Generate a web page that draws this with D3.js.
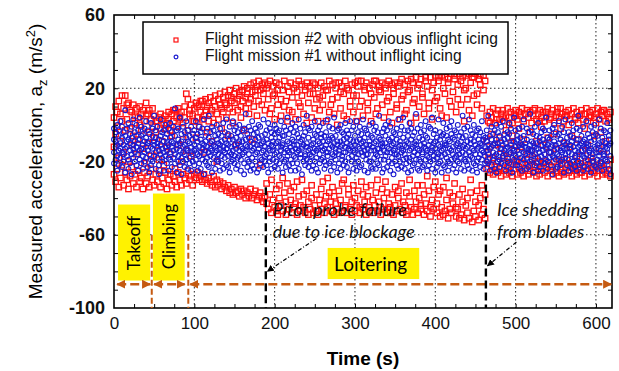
<!DOCTYPE html>
<html>
<head>
<meta charset="utf-8">
<script src="https://cdn.jsdelivr.net/npm/d3@7"></script>
<style>
  body { margin: 0; background: #fff; }
  svg { display: block; font-family: "Liberation Sans", Arial, sans-serif; }
</style>
</head>
<body>
<svg id="chart" width="619" height="371"></svg>
<script>
// ---- data: each row is [time (s), a_z samples (m/s^2) ...] ----
// mission #1, no icing
const cleanTakeoffClimb = [
[0,-8,-15,-2,-21],[2,-12,-4,-19,-9],[4,-17,0,-11,-25],[6,-6,-14,-22,-3],[8,-10,-18,2,-13],[10,-23,-7,-15,-1],[12,-4,-11,-20,-16],[14,8,-13,-26,-6],[16,-9,-2,-17,-12],[18,-19,-8,-24,1],
[20,-14,-5,-10,-21],[22,-1,-16,-27,-7],[24,-11,3,-18,-13],[26,-20,-9,-4,-15],[28,-6,-22,-12,0],[30,-16,-3,-25,-10],[32,-8,-19,-14,4],[34,-13,-1,-21,-6],[36,-24,-11,-5,-17],[38,-2,-15,-9,-20],
[40,-18,-7,-12,2],[42,-10,-23,-3,-14],[44,-5,-16,-26,-9],[46,-12,1,-19,-22],[48,-20,-6,-13,-2],[50,-9,-17,5,-11],[52,-15,-24,-7,-3],[54,-1,-12,-18,-10],[56,-22,-8,-14,-27],[58,-6,3,-16,-11],
[60,-13,-20,-4,-18],[62,-3,-9,-25,-15],[64,-17,-12,0,-7],[66,-10,-21,-14,-5],[68,-25,-2,-11,-18],[70,-7,-15,-19,1],[72,-12,-4,-23,-9],[74,-18,-10,-1,-14],[76,9,-6,-16,-21],[78,-11,-26,-3,-13],
[80,-2,-17,-8,-20],[82,-14,-22,4,-10],[84,-9,-5,-18,-27],[86,-20,-12,-1,-15],[88,-4,-16,-11,-23],[90,-13,2,-19,-7],[92,-24,-9,-14,-3],[94,-6,-18,-10,-21],[96,-15,-1,-25,-12],[98,-8,-20,-5,-16]
];
const cleanLoiterA = [
[100,-11,-3,-22,-14],[102,-19,-7,-13,2],[104,-5,-16,-25,-9],[106,-12,-21,-1,-17],[108,-24,-8,-15,-4],[110,-2,-13,-19,-10],[112,-16,3,-27,-11],[114,-9,-20,-6,-14],[116,-22,-12,-2,-18],[118,-7,-15,-23,5],
[120,-13,-4,-17,-10],[122,-26,-9,-14,-1],[124,-3,-18,-11,-21],[126,-15,-6,-24,-12],[128,0,-14,-8,-19],[130,-20,-10,-16,-5],[132,-11,-25,-2,-13],[134,-6,-17,-21,-9],[136,-14,1,-12,-24],[138,-18,-8,-4,-15],
[140,-10,-22,-13,3],[142,-23,-5,-17,-11],[144,-1,-15,-26,-8],[146,-16,-12,-6,-20],[148,-8,-19,2,-14],[150,-21,-3,-11,-17],[152,-13,-24,-7,-1],[154,-4,-10,-18,-22],[156,-17,-14,0,-9],[158,-25,-6,-12,-19],
[160,-9,-16,-3,-13],[162,-2,-21,-15,-27],[164,-14,-8,6,-11],[166,-19,-12,-23,-5],[168,-7,-1,-16,-20],[170,-12,-25,-9,-3],[172,-22,-14,-18,2],[174,-5,-10,-13,-24],[176,-16,-20,-2,-8],[178,-11,-4,-26,-15],
[180,-24,-13,-7,0],[182,-1,-18,-11,-21],[184,-15,-6,-19,-10],[186,-9,-23,3,-14],[188,-20,-12,-5,-17],[190,-3,-16,-22,-8],[192,-13,-26,-10,1],[194,-18,-2,-14,-20],[196,-7,-11,-24,-4],[198,-14,-19,-9,-12],
[200,-23,-5,0,-16],[202,-10,-15,-20,-2],[204,-4,-24,-12,-9],[206,-17,-7,-3,-21],[208,-12,2,-18,-14],[210,-26,-11,-6,-10],[212,-6,-20,-15,-1],[214,-19,-3,-23,-13],[216,-9,-14,4,-17],[218,-15,-22,-10,-5],
[220,-2,-12,-19,-25],[222,-21,-8,-14,1],[224,-11,-17,-4,-9],[226,-25,-1,-13,-18],[228,-5,-15,-21,-11],[230,-14,-24,-7,3],[232,-18,-9,-2,-16],[234,-8,-13,-27,-12],[236,0,-20,-11,-6],[238,-16,-4,-17,-22],
[240,-12,-19,5,-10],[242,-23,-7,-14,-2],[244,-3,-16,-20,-13],[246,-17,-11,-1,-25],[248,-10,-22,-8,-15],[250,-20,2,-13,-5],[252,-6,-14,-24,-18],[254,-13,-26,-3,-9],[256,-1,-10,-16,-21],[258,-19,-5,-12,-7],
[260,-9,-18,1,-14],[262,-24,-13,-6,-20],[264,-4,-15,-22,-11],[266,-15,3,-9,-17],[268,-21,-8,-13,-1],[270,-11,-20,-25,-6],[272,-7,-2,-16,-12],[274,-17,-23,-10,4],[276,-13,-6,-19,-15],[278,-26,-11,-3,-9],
[280,-2,-16,-14,-21],[282,-12,-9,-24,0],[284,-19,-4,-11,-17],[286,-8,-22,-15,-5],[288,-15,1,-20,-12],[290,-23,-10,-7,-3],[292,-5,-18,-13,-26],[294,-11,-14,2,-8],[296,-20,-3,-17,-12],[298,-14,-24,-9,-1]
];
const cleanLoiterB = [
[300,-6,-15,-21,-11],[302,-18,2,-9,-25],[304,-12,-4,-16,-20],[306,-1,-23,-13,-8],[308,-22,-10,-5,-15],[310,-9,-17,3,-12],[312,-25,-7,-14,-2],[314,-3,-19,-11,-16],[316,-16,-13,-26,-5],[318,-11,0,-20,-9],
[320,-20,-14,-6,-23],[322,-7,-24,-12,1],[324,-14,-3,-18,-10],[326,-24,-9,-1,-16],[328,-4,-17,-13,-21],[330,-13,5,-22,-7],[332,-19,-11,-8,-15],[334,-10,-26,-4,-12],[336,-2,-14,-19,-24],[338,-17,-6,-10,0],
[340,-23,-12,-15,-3],[342,-8,-20,2,-13],[344,-15,-1,-25,-9],[346,-11,-18,-7,-21],[348,-27,-4,-14,-10],[350,-5,-13,-20,-16],[352,-16,-22,-2,-8],[354,-12,3,-17,-24],[356,-20,-9,-11,-5],[358,-1,-15,-23,-13],
[360,-14,-7,-19,4],[362,-24,-16,-3,-11],[364,-9,-21,-12,-18],[366,-3,-10,-26,-6],[368,-18,1,-14,-20],[370,-13,-25,-8,-2],[372,-6,-12,-17,-22],[374,-21,-4,-10,-15],[376,-11,-19,6,-9],[378,-16,-2,-24,-13],
[380,-25,-14,-7,-19],[382,-4,-20,-11,0],[384,-15,-8,-16,-23],[386,-10,-22,-3,-12],[388,-19,2,-13,-6],[390,-7,-17,-25,-14],[392,-22,-11,-1,-18],[394,-2,-15,-9,-20],[396,-14,-24,-12,4],[398,-17,-5,-19,-10],
[400,-9,-13,-26,-3],[402,-23,-18,-7,-15],[404,3,-11,-16,-21],[406,-12,-20,-4,-8],[408,-26,-6,-14,-17],[410,-5,-13,1,-22],[412,-16,-23,-10,-11],[414,-11,-2,-18,-6],[416,-20,-15,-8,-25],[418,-1,-9,-21,-13],
[420,-14,-19,-5,2],[422,-24,-12,-16,-7],[424,-8,-3,-22,-18],[426,-17,-26,-11,-4],[428,-10,0,-14,-20],[430,-21,-13,-6,-16],[432,-4,-18,-24,-9],[434,-15,-7,-12,5],[436,-25,-11,-2,-19],[438,-6,-16,-20,-13],
[440,-12,-22,-9,-1],[442,-19,3,-15,-24],[444,-3,-10,-17,-8],[446,-18,-25,-13,-5],[448,-9,-14,0,-21],[450,-22,-6,-11,-16],[452,-13,-20,-26,-3],[454,-2,-12,-8,-18],[456,-16,-23,-4,-10],[458,-11,2,-19,-14],
[460,-24,-8,-15,-6],[462,-7,-17,-21,-12]
];
const cleanLoiterC = [
[464,-14,-3,-20,-9],[466,-21,-11,5,-16],[468,-6,-18,-13,-25],[470,-12,-1,-22,-8],[472,-19,-15,-5,-11],[474,-3,-24,-10,-17],[476,-16,-8,-26,0],[478,-10,-20,-12,-4],
[480,-23,-6,-15,-19],[482,-1,-13,-9,-21],[484,-17,2,-18,-11],[486,-8,-22,-14,-5],[488,-13,-10,-25,-16],[490,-20,-4,-7,-12],[492,-5,-16,-21,1],[494,-15,-11,-2,-24],[496,-26,-9,-13,-18],[498,-9,-19,4,-14],
[500,-12,-3,-17,-22],[502,-22,-14,-8,-6],[504,-2,-20,-11,-16],[506,-18,-7,-24,-10],[508,-11,-25,-1,-13],[510,-6,-15,-19,3],[512,-16,-10,-12,-21],[514,-24,-2,-18,-8],[516,-4,-13,-23,-15],[518,-14,-20,6,-11],
[520,-19,-9,-14,-3],[522,-10,-26,-5,-17],[524,-1,-12,-16,-22],[526,-21,-6,-10,-13],[528,-13,-18,1,-25],[530,-7,-23,-15,-9],[532,-17,-4,-11,-20],[534,-25,-14,-8,-2],[536,-3,-10,-21,-16],[538,-12,-19,-13,4],
[540,-20,-7,-24,-11],[542,-8,-15,-3,-18],[544,-15,-22,-12,-6],[546,-2,-11,-17,-27],[548,-18,0,-9,-14],[550,-11,-24,-19,-4],[552,-23,-13,-6,-16],[554,-5,-17,2,-10],[556,-14,-8,-22,-20],[558,-19,-12,-15,-1],
[560,-9,-26,-4,-13],[562,-16,3,-18,-11],[564,-22,-10,-13,-7],[566,-4,-19,-25,-15],[568,-13,-6,-11,-21],[570,-24,-16,1,-9],[572,-7,-12,-20,-3],[574,-17,-23,-14,-18],[576,-10,-2,-8,-25],[578,-20,-15,-12,5],
[580,-3,-11,-22,-16],[582,-14,-21,-6,-10],[584,-25,-9,-17,-1],[586,-8,-18,-13,-23],[588,-16,2,-10,-12],[590,-11,-24,-19,-5],[592,-21,-7,-14,-15],[594,-1,-13,-26,-9],[596,-18,-16,-4,-20],[598,-12,-22,0,-8],
[600,-23,-5,-15,-13],[602,-6,-19,-11,-24],[604,-15,-10,3,-17],[606,-20,-14,-21,-2],[608,-9,-25,-7,-12],[610,-17,-3,-16,-22],[612,-4,-12,-19,-10],[614,-13,-20,1,-15],[616,-24,-8,-11,-6],[618,-10,-17,-27,-3]
];

// mission #2, obvious icing
const icingTakeoffClimb = [
[0,4,-27,-12],[2,10,-31,-5],[4,-1,-24,7],[6,13,-34,-18],[8,6,-29,-9],[10,16,-22,2],[12,9,-33,-15],[14,16,-26,-3],[16,3,-30,11],[18,12,-35,-20],
[20,-2,-28,8],[22,7,-23,-11],[24,11,-32,-6],[26,1,-27,5],[28,9,-34,-16],[30,4,-25,-8],[32,10,-31,0],[34,-3,-29,6],[36,8,-35,-13],[38,2,-26,-21],
[40,12,-32,5],[42,6,-28,-10],[44,8,-34,-4],[46,3,-24,-17],[48,-1,-30,9],[50,5,-33,-7],[52,-4,-27,2],[54,2,-31,-14],[56,4,-25,-19],[58,-2,-34,6],
[60,3,-29,-9],[62,0,-32,-22],[64,5,-26,-2],[66,1,-35,-12],[68,7,-30,3],[70,-3,-27,-16],[72,6,-33,-6],[74,2,-28,8],[76,8,-31,-24],[78,4,-34,-1],
[80,9,-26,-11],[82,3,-30,5],[84,7,-33,-20],[86,1,-27,-8],[88,10,-29,4],[90,17,-32,-14],[92,14,-25,-3],[94,8,-30,6],[96,11,-28,-17],[98,5,-33,2]
];
const icingLoiterA = [
[100,9,-27,2],[102,12,-29,-7],[104,4,-26,10],[106,11,-30,-1],[108,7,-28,13],[110,13,-31,3],[112,5,-27,-15],[114,14,-30,8],[116,10,-32,-4],[118,2,-29,12],
[120,15,-31,6],[122,8,-33,-9],[124,13,-28,1],[126,16,-34,10],[128,6,-30,-20],[130,14,-33,3],[132,17,-31,11],[134,9,-35,-2],[136,15,-32,7],[138,18,-34,12],
[140,11,-36,4],[142,16,-33,-6],[144,19,-37,9],[146,13,-35,15],[148,7,-38,1],[150,17,-34,12],[152,20,-37,-11],[154,14,-36,8],[156,18,-39,16],[158,10,-35,4],
[160,19,-38,13],[162,21,-36,-3],[164,15,-40,9],[166,20,-37,17],[168,12,-39,6],[170,22,-35,14],[172,18,-40,-8],[174,23,-38,10],[176,16,-36,19],[178,21,-41,5],
[180,24,-39,13],[182,19,-37,-22],[184,22,-40,11],[186,17,-42,20],[188,23,-39,8],
[190,20,-43,-32],[192,14,-46,22],[194,24,-38,6],[196,9,-48,-30],[198,21,-41,16],[200,17,-45,3],[202,23,-35,-47],[204,11,-49,19],[206,22,-40,-33],[208,5,-44,14],
[210,19,-47,-29],[212,24,-37,10],[214,13,-49,-42],[216,21,-32,2],[218,8,-46,18],[220,23,-41,-36],[222,15,-48,7],[224,20,-34,-45],[226,3,-43,22],[228,18,-49,-31],
[230,24,-39,12],[232,10,-47,-44],[234,22,-30,16],[236,6,-45,-38],[238,19,-48,21],[240,23,-36,1],[242,12,-42,-49],[244,21,-46,17],[246,4,-33,-40],[248,17,-48,23],
[250,22,-44,9],[252,14,-38,-47],[254,20,-49,2],[256,8,-41,15],[258,23,-46,-35],[260,16,-31,11],[262,21,-48,-43],[264,2,-39,19],[266,19,-45,-29],[268,24,-37,7],
[270,11,-47,-42],[272,22,-34,14],[274,6,-49,-39],[276,20,-43,23],[278,15,-46,0],[280,23,-36,-48],[282,9,-41,18],[284,21,-47,-32],[286,17,-30,5],[288,24,-45,-44],
[290,3,-48,20],[292,19,-38,-35],[294,13,-46,10],[296,22,-42,-49],[298,7,-33,16]
];
const icingLoiterB = [
[300,23,-47,-40],[302,16,-44,2],[304,21,-36,24],[306,10,-48,-45],[308,24,-31,13],[310,5,-46,-38],[312,19,-42,21],[314,23,-49,-34],[316,12,-39,8],[318,20,-45,-47],
[320,2,-33,17],[322,22,-48,-41],[324,15,-44,24],[326,24,-37,6],[328,9,-47,-30],[330,21,-42,19],[332,18,-49,-45],[334,23,-35,11],[336,4,-46,-40],[338,20,-31,22],
[340,13,-48,-37],[342,24,-43,15],[344,7,-45,-48],[346,22,-38,1],[348,17,-49,20],[350,23,-34,-44],[352,11,-47,9],[354,21,-40,-36],[356,3,-46,23],[358,25,-32,14],
[360,16,-48,-42],[362,22,-44,6],[364,8,-37,-49],[366,24,-47,18],[368,19,-30,-39],[370,1,-45,25],[372,23,-49,12],[374,14,-36,-46],[376,26,-42,4],[378,20,-48,-33],
[380,10,-40,22],[382,25,-46,-44],[384,17,-33,15],[386,6,-49,-38],[388,24,-43,26],[390,21,-47,-28],[392,12,-36,9],[394,26,-50,-45],[396,3,-41,19],[398,23,-46,-34],
[400,27,-31,13],[402,15,-48,-43],[404,24,-38,26],[406,9,-50,-36],[408,27,-45,5],[410,20,-34,-49],[412,26,-47,17],[414,4,-41,-29],[416,23,-51,25],[418,13,-37,-46],
[420,28,-48,10],[422,18,-43,-39],[424,25,-32,27],[426,7,-50,-45],[428,22,-46,14],[430,28,-38,-51],[432,11,-49,24],[434,26,-35,-42],[436,19,-52,2],[438,27,-44,20],
[440,14,-40,-48],[442,28,-51,8],[444,23,-30,-37],[446,5,-53,26],[448,26,-47,16],[450,28,-42,-50],[452,17,-36,11],[454,25,-52,-44],[456,22,-40,27],[458,9,-49,-33],
[460,27,-46,19],[462,24,-51,-38]
];
const icingLoiterC = [
[464,5,-24,-9],[466,2,-19,-15],[468,7,-26,1],[470,4,-22,-5],[472,9,-27,-18],[474,1,-23,-11],[476,6,-25,3],[478,8,-20,-26],
[480,3,-24,-7],[482,6,-28,-13],[484,8,-21,4],[486,2,-25,-17],[488,5,-27,-3],[490,9,-18,-23],[492,4,-26,0],[494,7,-22,-10],[496,1,-28,-6],[498,6,-24,-14],
[500,8,-20,5],[502,3,-27,-19],[504,7,-23,-2],[506,5,-26,-12],[508,9,-21,-25],[510,2,-28,-8],[512,6,-24,6],[514,8,-19,-16],[516,4,-27,-22],[518,7,-25,-4],
[520,1,-22,-14],[522,5,-26,8],[524,9,-23,-18],[526,3,-28,-9],[528,6,-20,-25],[530,8,-27,2],[532,4,-24,-1],[534,7,-21,-11],[536,2,-26,-20],[538,5,-23,7],
[540,9,-28,-7],[542,3,-22,-15],[544,6,-25,4],[546,8,-27,-23],[548,1,-20,-5],[550,5,-26,-13],[552,7,-23,9],[554,4,-28,-19],[556,9,-24,-2],[558,6,-21,-26],
[560,2,-27,-10],[562,7,-25,5],[564,5,-19,-21],[566,8,-26,0],[568,3,-23,-12],[570,6,-28,-6],[572,9,-22,-24],[574,4,-25,3],[576,7,-27,-17],[578,1,-24,-8],
[580,5,-21,-26],[582,8,-26,6],[584,3,-23,-14],[586,6,-28,-2],[588,9,-25,-20],[590,2,-22,-11],[592,7,-27,4],[594,5,-24,-18],[596,8,-20,-25],[598,4,-26,-6],
[600,6,-23,1],[602,9,-28,-22],[604,3,-25,-13],[606,7,-21,-4],[608,5,-27,8],[610,8,-24,-16],[612,2,-26,-9],[614,6,-22,-27],[616,4,-25,3],[618,7,-28,-19]
];

const xTicks = [0, 100, 200, 300, 400, 500, 600];
const yTicks = [-100, -60, -20, 20, 60];
const xGrid = [100, 200, 300, 400, 500, 600];
const yGrid = [-60, -20, 20];
const seriesNames = ["Flight mission #2 with obvious inflight icing", "Flight mission #1 without inflight icing"];

// phases: [label, start, end] in seconds
const phases = [["Takeoff", 4, 45], ["Climbing", 50, 88], ["Loitering", 95, 619]];
const phaseBounds = [47, 92.5];
const events = [
  {t: 189, top: -34, dx: 7, lines: ["Pitot probe failure", "due to ice blockage"], from: [252, -62], to: [191, -80]},
  {t: 463, top: -26, dx: 11, lines: ["Ice shedding", "from blades"], from: [501, -64], to: [465, -77]}
];

// ---- layout ----
const W = 619, H = 371;
const margin = {top: 15, right: 7, bottom: 63, left: 114};
const x = d3.scaleLinear().domain([0, 620]).range([margin.left, W - margin.right]);
const y = d3.scaleLinear().domain([-100, 60]).range([H - margin.bottom, margin.top]);
const svg = d3.select("#chart");
const RED = "#ff1010", BLUE = "#1a1ad0", ORANGE = "#c55a11", YELLOW = "#fff200";

const defs = svg.append("defs");
defs.append("marker").attr("id", "arrOrange").attr("viewBox", "0 0 10 10")
    .attr("refX", 9).attr("refY", 5).attr("markerWidth", 9).attr("markerHeight", 9)
    .attr("markerUnits", "userSpaceOnUse").attr("orient", "auto-start-reverse")
  .append("path").attr("d", "M0,0L10,5L0,10z").attr("fill", ORANGE);
defs.append("marker").attr("id", "arrBlack").attr("viewBox", "0 0 10 10")
    .attr("refX", 9).attr("refY", 5).attr("markerWidth", 7).attr("markerHeight", 7)
    .attr("markerUnits", "userSpaceOnUse").attr("orient", "auto")
  .append("path").attr("d", "M0,0L10,5L0,10z").attr("fill", "#000");
defs.append("clipPath").attr("id", "plotClip").append("rect")
    .attr("x", margin.left - 4).attr("y", margin.top)
    .attr("width", W - margin.left + 4).attr("height", y(-100) - margin.top);

// grid (dotted)
svg.append("g").selectAll("line").data(xGrid).join("line")
    .attr("x1", d => x(d)).attr("x2", d => x(d)).attr("y1", y(60)).attr("y2", y(-100))
    .attr("stroke", "#222").attr("stroke-width", 1).attr("stroke-dasharray", "1.5,2.5");
svg.append("g").selectAll("line").data(yGrid).join("line")
    .attr("y1", d => y(d)).attr("y2", d => y(d)).attr("x1", x(0)).attr("x2", x(620))
    .attr("stroke", "#222").attr("stroke-width", 1).attr("stroke-dasharray", "1.5,2.5");

// minor ticks inward on all four sides
const xMinor = d3.range(25, 620, 25), yMinor = d3.range(-90, 60, 10);
function tickAxis(axis, tr) {
  const g = svg.append("g").attr("transform", tr).call(axis);
  g.select(".domain").remove();
  g.selectAll("line").attr("stroke", "#000");
}
tickAxis(d3.axisBottom(x).tickValues(xMinor).tickSize(-4).tickFormat(""), `translate(0,${y(-100)})`);
tickAxis(d3.axisTop(x).tickValues(xMinor).tickSize(-4).tickFormat(""), `translate(0,${y(60)})`);
tickAxis(d3.axisLeft(y).tickValues(yMinor).tickSize(-4).tickFormat(""), `translate(${x(0)},0)`);
tickAxis(d3.axisRight(y).tickValues(yMinor).tickSize(-4).tickFormat(""), `translate(${x(620)},0)`);

// scatter: icing first, clean on top
const toPoints = rows => rows.flatMap(([t, ...vals]) => vals.map(v => [t, v]));
const icing = toPoints([].concat(icingTakeoffClimb, icingLoiterA, icingLoiterB, icingLoiterC));
const clean = toPoints([].concat(cleanTakeoffClimb, cleanLoiterA, cleanLoiterB, cleanLoiterC));
const plot = svg.append("g").attr("clip-path", "url(#plotClip)");
plot.append("g").selectAll("rect").data(icing).join("rect")
    .attr("x", d => x(d[0]) - 2.7).attr("y", d => y(d[1]) - 2.7)
    .attr("width", 5.4).attr("height", 5.4)
    .attr("fill", "none").attr("stroke", RED).attr("stroke-width", 1.3);
plot.append("g").selectAll("circle").data(clean).join("circle")
    .attr("cx", d => x(d[0])).attr("cy", d => y(d[1])).attr("r", 2.4)
    .attr("fill", "none").attr("stroke", BLUE).attr("stroke-width", 1.1);

// frame
svg.append("rect").attr("x", x(0)).attr("y", y(60))
    .attr("width", x(620) - x(0)).attr("height", y(-100) - y(60))
    .attr("fill", "none").attr("stroke", "#000").attr("stroke-width", 1.6);

// tick labels
const xAx = svg.append("g").attr("transform", `translate(0,${y(-100)})`)
    .call(d3.axisBottom(x).tickValues(xTicks).tickSize(0).tickPadding(9).tickFormat(d => String(d)));
xAx.select(".domain").remove();
xAx.selectAll("text").attr("font-size", 17).attr("font-family", "Liberation Sans, Arial").attr("fill", "#111");
const yAx = svg.append("g").attr("transform", `translate(${x(0)},0)`)
    .call(d3.axisLeft(y).tickValues(yTicks).tickSize(0).tickPadding(9).tickFormat(d => String(d)));
yAx.select(".domain").remove();
yAx.selectAll("text").attr("font-size", 18).attr("font-weight", "bold").attr("font-family", "Liberation Sans, Arial").attr("fill", "#111");

// axis titles
svg.append("text").attr("x", (x(0) + x(620)) / 2).attr("y", 365)
    .attr("text-anchor", "middle").attr("font-size", 19).attr("font-weight", "bold")
    .text("Time (s)");
const yt = svg.append("text").attr("transform", `translate(42,${(y(60) + y(-100)) / 2}) rotate(-90)`)
    .attr("text-anchor", "middle").attr("font-size", 19);
yt.append("tspan").text("Measured acceleration, a");
yt.append("tspan").attr("font-size", 13).attr("dy", 5).text("z");
yt.append("tspan").attr("dy", -5).text(" (m/s");
yt.append("tspan").attr("font-size", 13).attr("dy", -7).text("2");
yt.append("tspan").attr("dy", 7).text(")");

// legend
const lg = svg.append("g");
lg.append("rect").attr("x", 143).attr("y", 22).attr("width", 365).attr("height", 52)
    .attr("fill", "#fff").attr("stroke", "#000").attr("stroke-width", 1.5);
lg.append("rect").attr("x", 174).attr("y", 38).attr("width", 4).attr("height", 4)
    .attr("fill", "none").attr("stroke", RED).attr("stroke-width", 1.2);
lg.append("circle").attr("cx", 176).attr("cy", 57).attr("r", 1.9)
    .attr("fill", "none").attr("stroke", BLUE).attr("stroke-width", 1.2);
lg.selectAll("text").data(seriesNames).join("text")
    .attr("x", 205).attr("y", (d, i) => 44 + i * 16.5)
    .attr("font-size", 15.6).attr("fill", "#111").text(d => d);

// flight phase annotations
const ann = svg.append("g").attr("font-family", "Lato, sans-serif");
ann.append("rect").attr("x", x(5)).attr("y", y(-43.5)).attr("width", x(45) - x(5)).attr("height", y(-85) - y(-43.5)).attr("fill", YELLOW);
ann.append("rect").attr("x", x(48.5)).attr("y", y(-37.5)).attr("width", x(88) - x(48.5)).attr("height", y(-85) - y(-37.5)).attr("fill", YELLOW);
ann.append("rect").attr("x", x(266)).attr("y", y(-67.2)).attr("width", x(380) - x(266)).attr("height", y(-84.2) - y(-67.2)).attr("fill", YELLOW);
ann.append("text").attr("transform", `translate(${x(25) + 6},${y(-64.5)}) rotate(-90)`)
    .attr("text-anchor", "middle").attr("font-size", 17).text(phases[0][0]);
ann.append("text").attr("transform", `translate(${x(68) + 6},${y(-61)}) rotate(-90)`)
    .attr("text-anchor", "middle").attr("font-size", 17).text(phases[1][0]);
ann.append("text").attr("x", x(274)).attr("y", y(-79.8)).attr("font-size", 19).text(phases[2][0]);

ann.selectAll("line.bound").data(phaseBounds).join("line").attr("class", "bound")
    .attr("x1", d => x(d)).attr("x2", d => x(d)).attr("y1", y(-60)).attr("y2", y(-100))
    .attr("stroke", ORANGE).attr("stroke-width", 2).attr("stroke-dasharray", "6,3");
ann.selectAll("line.phase").data(phases).join("line").attr("class", "phase")
    .attr("x1", d => x(d[1])).attr("x2", d => x(d[2])).attr("y1", y(-87)).attr("y2", y(-87))
    .attr("stroke", ORANGE).attr("stroke-width", 2.6).attr("stroke-dasharray", "9,4")
    .attr("marker-start", "url(#arrOrange)").attr("marker-end", "url(#arrOrange)");

// event markers
events.forEach(e => {
  ann.append("line").attr("x1", x(e.t)).attr("x2", x(e.t)).attr("y1", y(e.top)).attr("y2", y(-100))
      .attr("stroke", "#000").attr("stroke-width", 2.4).attr("stroke-dasharray", "8,4");
  ann.selectAll(null).data(e.lines).join("text")
      .attr("x", x(e.t) + e.dx).attr("y", (d, i) => y(-50) + i * 22)
      .attr("font-size", 18).attr("font-style", "italic").attr("fill", "#111").text(d => d);
  ann.append("line").attr("x1", x(e.from[0])).attr("y1", y(e.from[1]))
      .attr("x2", x(e.to[0])).attr("y2", y(e.to[1]))
      .attr("stroke", "#000").attr("stroke-width", 1.2).attr("stroke-dasharray", "4,2,1,2")
      .attr("marker-end", "url(#arrBlack)");
});
</script>
</body>
</html>
